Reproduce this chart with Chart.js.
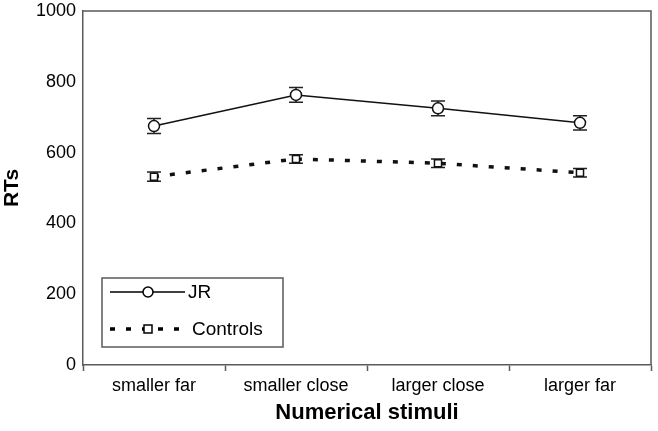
<!DOCTYPE html>
<html>
<head>
<meta charset="utf-8">
<script src="https://cdn.jsdelivr.net/npm/chart.js@4.4.1/dist/chart.umd.min.js"></script>
<style>
  html, body { margin: 0; padding: 0; background: #fff; overflow: hidden; }
  #wrap { width: 658px; height: 431px; position: relative; }
</style>
</head>
<body>
<div id="wrap"><canvas id="rt"></canvas></div>
<script>
// categories and values
const categories = ['smaller far', 'smaller close', 'larger close', 'larger far'];
const jrRT = [675, 763, 725, 684];
const jrErr = [21, 21, 21, 20];
const controlsRT = [532, 582, 570, 543];
const controlsErr = [13, 12, 12, 12];
const yTicks = [0, 200, 400, 600, 800, 1000];

const axisGray = '#5a5a5a';
const FONT = '"Liberation Sans", Arial, sans-serif';

// error bars, drawn under the markers
const errorBars = {
  id: 'errorBars',
  beforeDatasetsDraw(chart) {
    const ctx = chart.ctx;
    const y = chart.scales.y;
    chart.data.datasets.forEach((ds, i) => {
      const meta = chart.getDatasetMeta(i);
      ctx.save();
      ctx.strokeStyle = '#222';
      ctx.lineWidth = 1.5;
      meta.data.forEach((pt, j) => {
        const v = ds.data[j], e = ds.errors[j];
        const top = y.getPixelForValue(v + e), bot = y.getPixelForValue(v - e);
        const cap = 7;
        ctx.beginPath();
        ctx.moveTo(pt.x, top); ctx.lineTo(pt.x, bot);
        ctx.moveTo(pt.x - cap, top); ctx.lineTo(pt.x + cap, top);
        ctx.moveTo(pt.x - cap, bot); ctx.lineTo(pt.x + cap, bot);
        ctx.stroke();
      });
      ctx.restore();
    });
  }
};

// box around plot + legend box
const frameAndLegend = {
  id: 'frameAndLegend',
  afterDraw(chart) {
    const ctx = chart.ctx;
    const a = chart.chartArea;
    ctx.save();
    ctx.strokeStyle = axisGray;
    ctx.lineWidth = 1.5;
    ctx.beginPath();
    ctx.moveTo(a.left, a.top); ctx.lineTo(a.right, a.top); ctx.lineTo(a.right, a.bottom);
    ctx.stroke();

    // legend
    const bx = 102, by = 278, bw = 181, bh = 69;
    ctx.strokeRect(bx, by, bw, bh);
    const rows = [{ y: 292, ds: chart.data.datasets[0] }, { y: 329, ds: chart.data.datasets[1] }];
    rows.forEach(r => {
      ctx.strokeStyle = '#000';
      ctx.lineWidth = r.ds.borderWidth;
      ctx.setLineDash(r.ds.borderDash || []);
      ctx.beginPath();
      ctx.moveTo(110, r.y); ctx.lineTo(r.ds.borderDash ? 180 : 185, r.y);
      ctx.stroke();
      ctx.setLineDash([]);
      ctx.fillStyle = '#fff';
      ctx.lineWidth = 1.5;
      ctx.beginPath();
      if (r.ds.pointStyle === 'circle') {
        ctx.arc(148, r.y, 5, 0, Math.PI * 2);
      } else {
        ctx.rect(144, r.y - 4, 8, 8);
      }
      ctx.fill(); ctx.stroke();
      ctx.fillStyle = '#000';
      ctx.font = '19px ' + FONT;
      ctx.textBaseline = 'middle';
      ctx.fillText(r.ds.label, r.ds.pointStyle === 'circle' ? 188 : 192, r.y + 1);
    });
    ctx.restore();
  }
};

new Chart(document.getElementById('rt'), {
  type: 'line',
  data: {
    labels: categories,
    datasets: [
      {
        label: 'JR', data: jrRT, errors: jrErr,
        borderColor: '#111', borderWidth: 1.5,
        pointStyle: 'circle', pointRadius: 5.5, pointBorderWidth: 1.5,
        pointBackgroundColor: '#fff', pointBorderColor: '#111', tension: 0
      },
      {
        label: 'Controls', data: controlsRT, errors: controlsErr,
        borderColor: '#111', borderWidth: 3.5, borderDash: [5, 11],
        pointStyle: 'rect', pointRadius: 5, pointBorderWidth: 1.5,
        pointBackgroundColor: '#fff', pointBorderColor: '#111', tension: 0
      }
    ]
  },
  options: {
    responsive: true,
    maintainAspectRatio: false,
    animation: false,
    layout: { padding: { top: 0, left: 0, bottom: 0, right: -4 } },
    plugins: { legend: { display: false }, tooltip: { enabled: false } },
    scales: {
      x: {
        offset: true,
        grid: { offset: true, drawOnChartArea: false, drawTicks: true, tickLength: 6, tickColor: axisGray, tickWidth: 1.5 },
        border: { color: axisGray, width: 1.5 },
        ticks: { color: '#000', font: { family: FONT, size: 18 }, padding: 4, maxRotation: 0 },
        title: { display: true, text: 'Numerical stimuli', color: '#000', font: { family: FONT, size: 22, weight: 'bold' }, padding: { top: 0, bottom: 5 } },
        afterFit(s) { s.height = 66; s.paddingLeft = 0; s.paddingRight = 0; }
      },
      y: {
        min: 0, max: 1000,
        afterBuildTicks(s) { s.ticks = yTicks.map(v => ({ value: v })); },
        grid: { drawOnChartArea: false, drawTicks: false },
        border: { color: axisGray, width: 1.5 },
        ticks: { color: '#000', font: { family: FONT, size: 18 }, padding: 7, callback: v => String(v) },
        title: { display: true, text: 'RTs', color: '#000', font: { family: FONT, size: 21, weight: 'bold' }, padding: { top: 0, bottom: 0 } },
        afterFit(s) { s.width = 83; s.paddingTop = 11; s.paddingBottom = 0; s.paddingLeft = 0; s.paddingRight = 0; }
      }
    }
  },
  plugins: [errorBars, frameAndLegend]
});
</script>
</body>
</html>
